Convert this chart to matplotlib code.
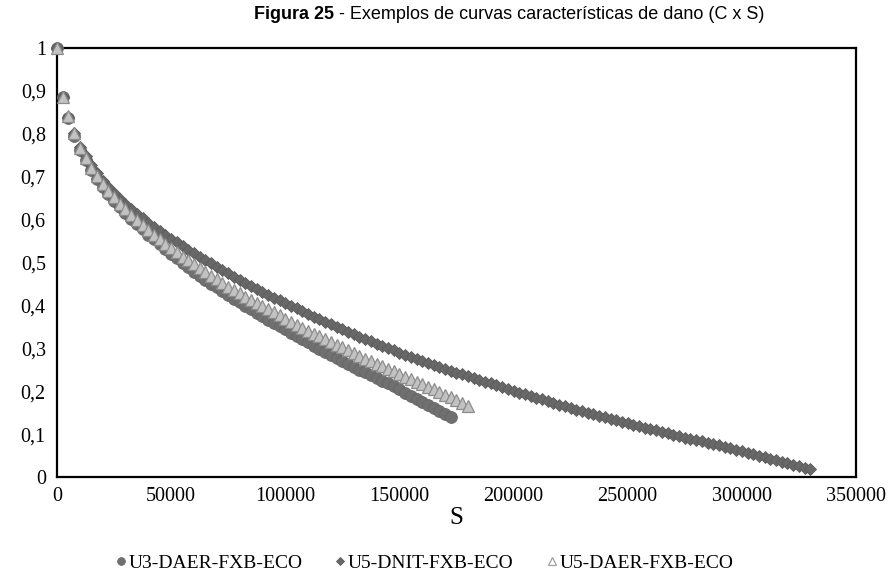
import numpy as np
import matplotlib
matplotlib.use('Agg')
import matplotlib.pyplot as plt

# damage curves C x S, sampled every S_STEP
S_STEP = 2500

c_u3_daer = [
    1.000, 0.885, 0.838, 0.796, 0.762, 0.738, 0.715, 0.695, 0.676, 0.660,
    0.644, 0.629, 0.615, 0.602, 0.589, 0.577, 0.565, 0.554, 0.543, 0.532,
    0.521, 0.510, 0.499, 0.489, 0.479, 0.469, 0.460, 0.451, 0.442, 0.433,
    0.424, 0.416, 0.407, 0.399, 0.391, 0.383, 0.375, 0.367, 0.359, 0.351,
    0.344, 0.336, 0.329, 0.321, 0.314, 0.306, 0.299, 0.292, 0.285, 0.278,
    0.271, 0.264, 0.257, 0.250, 0.244, 0.237, 0.231, 0.224, 0.218, 0.211,
    0.204, 0.197, 0.190, 0.183, 0.176, 0.169, 0.162, 0.155, 0.148, 0.141,
]

c_u5_dnit = [
    1.000, 0.885, 0.840, 0.802, 0.770, 0.748, 0.727, 0.708, 0.690, 0.675,
    0.661, 0.648, 0.636, 0.625, 0.614, 0.603, 0.593, 0.583, 0.574, 0.565,
    0.556, 0.547, 0.539, 0.530, 0.522, 0.514, 0.506, 0.498, 0.490, 0.482,
    0.475, 0.467, 0.460, 0.453, 0.446, 0.439, 0.432, 0.425, 0.418, 0.412,
    0.405, 0.399, 0.393, 0.386, 0.380, 0.374, 0.368, 0.362, 0.356, 0.350,
    0.344, 0.339, 0.333, 0.327, 0.322, 0.316, 0.311, 0.306, 0.300, 0.295,
    0.290, 0.285, 0.280, 0.275, 0.270, 0.265, 0.261, 0.256, 0.252, 0.248,
    0.243, 0.239, 0.235, 0.231, 0.226, 0.222, 0.218, 0.214, 0.209, 0.205,
    0.201, 0.197, 0.193, 0.189, 0.185, 0.181, 0.177, 0.173, 0.169, 0.165,
    0.161, 0.157, 0.153, 0.150, 0.146, 0.143, 0.139, 0.136, 0.132, 0.129,
    0.125, 0.122, 0.118, 0.115, 0.112, 0.109, 0.105, 0.102, 0.099, 0.096,
    0.092, 0.089, 0.086, 0.083, 0.080, 0.077, 0.074, 0.070, 0.067, 0.063,
    0.060, 0.056, 0.053, 0.049, 0.046, 0.042, 0.039, 0.035, 0.032, 0.029,
    0.025, 0.022, 0.019,
]

c_u5_daer = [
    1.000, 0.885, 0.842, 0.801, 0.767, 0.743, 0.721, 0.701, 0.683, 0.667,
    0.652, 0.637, 0.624, 0.611, 0.599, 0.587, 0.576, 0.565, 0.554, 0.544,
    0.534, 0.524, 0.514, 0.505, 0.496, 0.487, 0.478, 0.469, 0.461, 0.453,
    0.444, 0.436, 0.428, 0.420, 0.413, 0.405, 0.398, 0.391, 0.384, 0.377,
    0.369, 0.362, 0.355, 0.348, 0.341, 0.334, 0.328, 0.321, 0.315, 0.308,
    0.302, 0.296, 0.289, 0.282, 0.276, 0.270, 0.264, 0.258, 0.252, 0.246,
    0.240, 0.234, 0.228, 0.222, 0.216, 0.210, 0.204, 0.198, 0.192, 0.186,
    0.179, 0.172, 0.165,
]

labels = ['U3-DAER-FXB-ECO', 'U5-DNIT-FXB-ECO', 'U5-DAER-FXB-ECO']
x_ticks = [0, 50000, 100000, 150000, 200000, 250000, 300000, 350000]
y_ticks = [0, 0.1, 0.2, 0.3, 0.4, 0.5, 0.6, 0.7, 0.8, 0.9, 1]

serif = ['Liberation Serif', 'DejaVu Serif']
sans = ['Liberation Sans Narrow', 'Liberation Sans', 'DejaVu Sans']


def s_of(c):
    return np.arange(len(c)) * S_STEP


def fmt(v):
    if v == 1 or v == 0:
        return '%d' % v
    return ('%.1f' % v).replace('.', ',')


def main():
    fig = plt.figure(figsize=(8.93, 5.86), dpi=100)
    ax = fig.add_axes([0.0638, 0.186, 0.8947, 0.732])

    ax.plot(s_of(c_u3_daer), c_u3_daer, ls='none', marker='o', ms=8.5,
            mfc='#707070', mec='#666666', mew=0.6, label=labels[0],
            zorder=3, clip_on=False)
    ax.plot(s_of(c_u5_dnit), c_u5_dnit, ls='none', marker='D', ms=5.8,
            mfc='#686868', mec='#5c5c5c', mew=0.6, label=labels[1],
            zorder=3, clip_on=False)
    ax.plot(s_of(c_u5_daer), c_u5_daer, ls='none', marker='^', ms=9,
            mfc='#c2c2c2', mec='#8c8c8c', mew=0.9, label=labels[2],
            zorder=4, clip_on=False)

    ax.set_xlim(0, 350000)
    ax.set_ylim(0, 1)
    ax.set_xticks(x_ticks)
    ax.set_xticklabels([str(v) for v in x_ticks], family=serif, fontsize=14.5)
    ax.set_yticks(y_ticks)
    ax.set_yticklabels([fmt(v) for v in y_ticks], family=serif, fontsize=14.5)
    ax.tick_params(length=0)
    ax.tick_params(axis='y', pad=8)
    ax.tick_params(axis='x', pad=7)
    for sp in ax.spines.values():
        sp.set_linewidth(1.6)
        sp.set_color('black')
        sp.set_zorder(2)
    ax.set_xlabel('S', family=serif, fontsize=18, labelpad=1)

    leg = ax.legend(loc='center', bbox_to_anchor=(0.46, -0.2), ncol=3,
                    frameon=False, prop={'family': serif, 'size': 14},
                    handlelength=0.5, handletextpad=0.15, columnspacing=1.7,
                    markerscale=0.65)
    for h in leg.legend_handles:
        if h.get_marker() == '^':
            h.set_markerfacecolor('white')
            h.set_markeredgecolor('#a0a0a0')

    # title: bold prefix + normal rest, centred together
    t1 = fig.text(0, 0.975, 'Figura 25', family=sans, fontweight='bold',
                  fontsize=13, va='center')
    t2 = fig.text(0, 0.975, ' - Exemplos de curvas características de dano (C x S)',
                  family=sans, fontsize=13, va='center')
    fig.canvas.draw()
    r = fig.canvas.get_renderer()
    w1 = t1.get_window_extent(r).width / fig.bbox.width
    w2 = t2.get_window_extent(r).width / fig.bbox.width
    x0 = 0.57 - (w1 + w2) / 2
    t1.set_x(x0)
    t2.set_x(x0 + w1)

    fig.savefig('out.png', dpi=100)


if __name__ == '__main__':
    main()
